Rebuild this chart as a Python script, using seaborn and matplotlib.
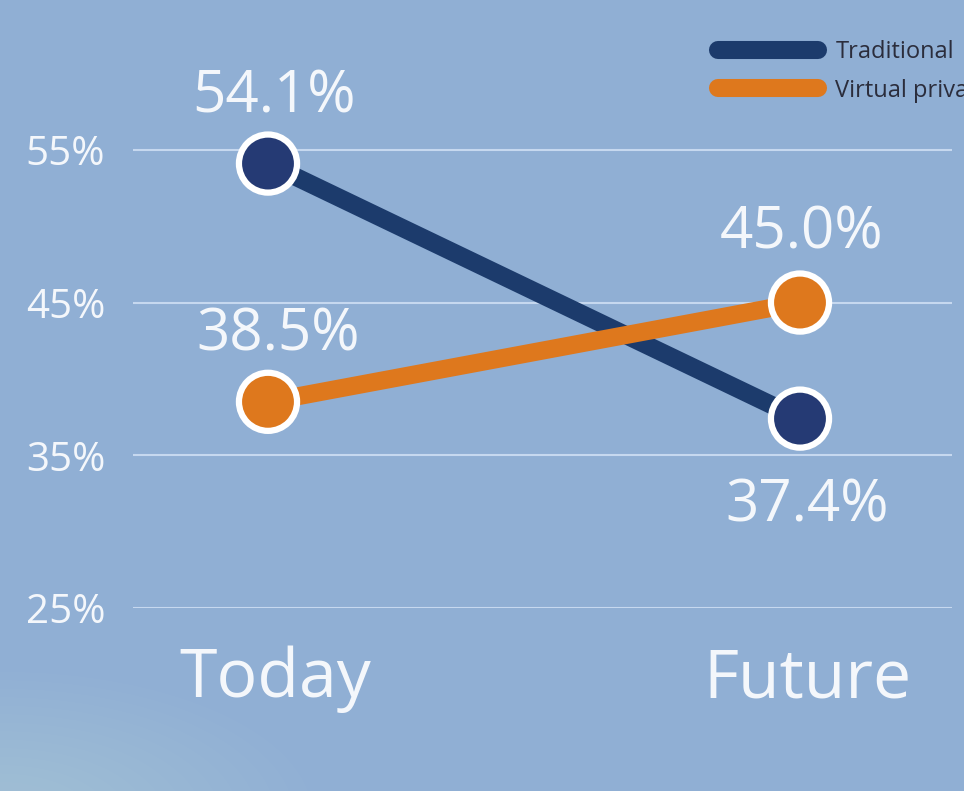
import matplotlib
matplotlib.use("Agg")
import matplotlib.pyplot as plt
import matplotlib.transforms as mtransforms
import seaborn as sns
import pandas as pd
import numpy as np
from matplotlib.lines import Line2D
from matplotlib.patches import Ellipse

# ---- data ----
periods = ["Today", "Future"]
traditional = [54.1, 37.4]
virtual = [38.5, 45.0]
series_names = ["Traditional", "Virtual private"]
y_ticks = [25, 35, 45, 55]
y_tick_labels = ["25%", "35%", "45%", "55%"]

BG = "#90afd4"
NAVY_LINE = "#1c3b6c"
NAVY_PT = "#253a74"
ORANGE = "#de781d"
WHITE = "#f4f7fb"

sns.set_theme(style="white")
plt.rcParams['font.family'] = ['Open Sans', 'DejaVu Sans']

df = pd.DataFrame({
    "x": [0, 1, 0, 1],
    "value": traditional + virtual,
    "series": [series_names[0]] * 2 + [series_names[1]] * 2,
})

fig = plt.figure(figsize=(9.64, 7.91), dpi=100, facecolor=BG)
# soft light glow lower-left
for w in np.linspace(520, 120, 14):
    e = Ellipse((0.0, -0.03), w / 964 * 1.2, w / 791 * 0.55, transform=fig.transFigure,
                facecolor="#c4d8ee", edgecolor="none", alpha=0.035, zorder=0)
    fig.patches.append(e)

ax = fig.add_axes([133 / 964, 1 - 608 / 791, (952 - 133) / 964, (608 - 104) / 791])
ax.set_facecolor("none")

palette = {series_names[0]: NAVY_LINE, series_names[1]: ORANGE}
sns.lineplot(data=df, x="x", y="value", hue="series", palette=palette, ax=ax,
             linewidth=13, legend=False, solid_capstyle="butt", zorder=3)
pt_palette = {series_names[0]: NAVY_PT, series_names[1]: ORANGE}
sns.scatterplot(data=df, x="x", y="value", hue="series", palette=pt_palette, ax=ax,
                s=1750, edgecolor="white", linewidth=4.5, legend=False, zorder=4)

ax.set_xlim(-135 / 532, 1 + 152 / 532)
ax.set_ylim(25, 58)
ax.set_yticks(y_ticks)
ax.set_yticklabels(y_tick_labels)
ax.set_xticks([0, 1])
ax.set_xticklabels(periods)
ax.set_xlabel("")
ax.set_ylabel("")
ax.grid(axis="y", color="#c6d8ef", linewidth=1.5, zorder=1)
ax.grid(axis="x", visible=False)
for s in ax.spines.values():
    s.set_visible(False)
ax.tick_params(axis="y", length=0, pad=20, labelsize=29, labelcolor=WHITE)
ax.tick_params(axis="x", length=0, pad=27, labelsize=49, labelcolor=WHITE)
shift = mtransforms.ScaledTranslation(7 / 100, 0, fig.dpi_scale_trans)
for lbl in ax.get_xticklabels():
    lbl.set_transform(lbl.get_transform() + shift)

# value labels
offsets = [(4, 48), (5, -63), (7, 48), (1, 50)]
vals = [(0, traditional[0]), (1, traditional[1]), (0, virtual[0]), (1, virtual[1])]
for (x, v), (dx, dy) in zip(vals, offsets):
    ax.annotate(f"{v:.1f}%", (x, v), xytext=(dx, dy), textcoords="offset points",
                ha="center", va="center", fontsize=42, color=WHITE,
                fontweight="normal", zorder=5)

handles = [Line2D([0], [0], color=NAVY_LINE, lw=13, solid_capstyle="round"),
           Line2D([0], [0], color=ORANGE, lw=13, solid_capstyle="round")]
leg = fig.legend(handles, series_names, loc="upper left",
                 bbox_to_anchor=(709 / 964, 1 - 31 / 791), frameon=False,
                 fontsize=17, handlelength=4.2, handletextpad=0.75,
                 labelspacing=0.6, borderaxespad=0)
for t in leg.get_texts():
    t.set_color("#2b2d3c")

fig.savefig("out.png", dpi=100, facecolor=BG)
